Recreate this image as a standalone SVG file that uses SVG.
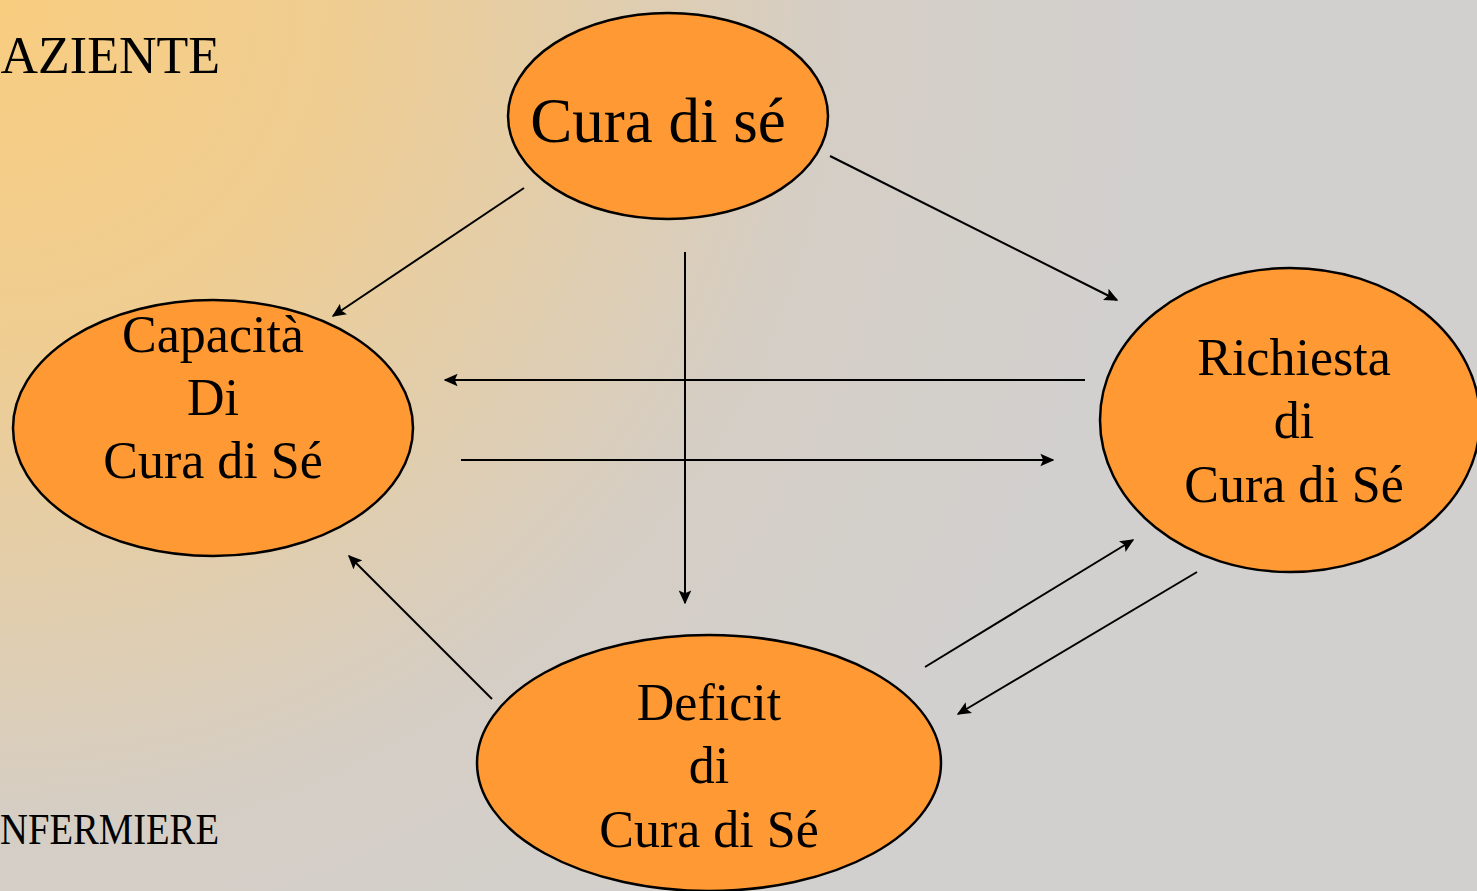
<svg xmlns="http://www.w3.org/2000/svg" width="1477" height="891" viewBox="0 0 1477 891">
<defs>
<radialGradient id="bg" gradientUnits="userSpaceOnUse" cx="0" cy="0" r="1150">
<stop offset="0" stop-color="#F9CD80"/>
<stop offset="0.3" stop-color="#EFCD92"/>
<stop offset="0.72" stop-color="#D5CEC5"/>
<stop offset="1" stop-color="#D2D0CE"/>
</radialGradient>
<marker id="ah" viewBox="0 0 10 10" refX="9" refY="5" markerWidth="7" markerHeight="7" orient="auto" markerUnits="strokeWidth">
<path d="M0,0.5 L10,5 L0,9.5 L2,5 z" fill="#000"/>
</marker>
<style>
.node ellipse{fill:#FF9933;stroke:#000;stroke-width:2.5}
.node text,.lbl{font-family:"Liberation Serif","Times New Roman",serif;fill:#000}
.node text{font-size:52px;text-anchor:middle}
.node text.big{font-size:63px}
.conn line{stroke:#000;stroke-width:2;marker-end:url(#ah)}
</style>
</defs>
<rect width="1477" height="891" fill="url(#bg)"/>
<text class="lbl" x="220" y="73" font-size="52" text-anchor="end">AZIENTE</text>
<text class="lbl" x="0" y="844" font-size="44" textLength="219" lengthAdjust="spacingAndGlyphs">NFERMIERE</text>
<g class="conn">
<line x1="524" y1="188" x2="333" y2="316"/>
<line x1="830" y1="156" x2="1117" y2="300"/>
<line x1="685" y1="252" x2="685" y2="603"/>
<line x1="1085" y1="380" x2="445" y2="380"/>
<line x1="461" y1="460" x2="1053" y2="460"/>
<line x1="492" y1="699" x2="349" y2="556"/>
<line x1="925" y1="667" x2="1133" y2="540"/>
<line x1="1197" y1="572" x2="958" y2="714"/>
</g>
<g id="cura" class="node">
<ellipse cx="668" cy="116" rx="160" ry="103"/>
<text class="big" x="658" y="142">Cura di sé</text>
</g>
<g id="capacita" class="node">
<ellipse cx="213" cy="428" rx="200" ry="128"/>
<text x="213" y="352">Capacità</text>
<text x="213" y="415">Di</text>
<text x="213" y="478">Cura di Sé</text>
</g>
<g id="richiesta" class="node">
<ellipse cx="1290" cy="420" rx="190" ry="152"/>
<text x="1294" y="375">Richiesta</text>
<text x="1294" y="438">di</text>
<text x="1294" y="502">Cura di Sé</text>
</g>
<g id="deficit" class="node">
<ellipse cx="709" cy="763" rx="232" ry="128"/>
<text x="709" y="720">Deficit</text>
<text x="709" y="783">di</text>
<text x="709" y="847">Cura di Sé</text>
</g>
</svg>
